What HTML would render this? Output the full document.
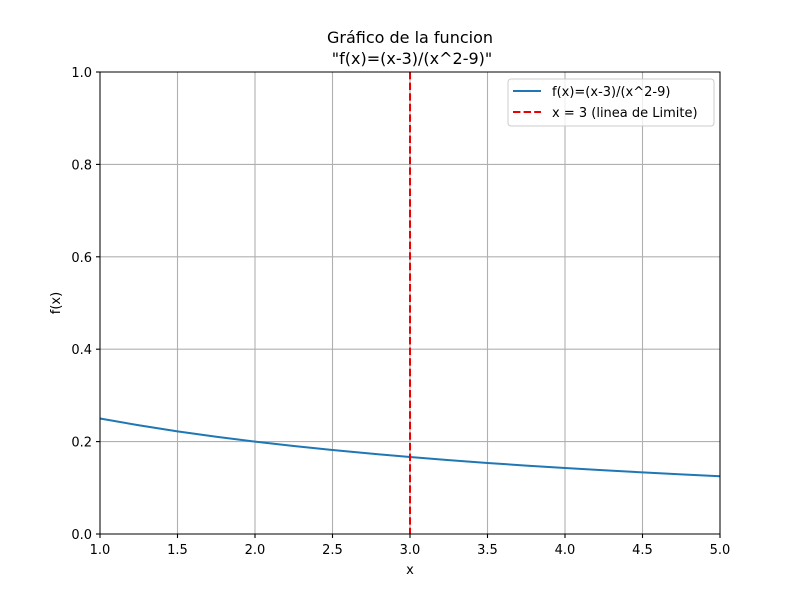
<!DOCTYPE html>
<html><head><meta charset="utf-8"><style>
body{margin:0;background:#fff;}
svg text{font-family:"DejaVu Sans","Liberation Sans",sans-serif;fill:#000;}
</style></head><body>
<svg id="chart" width="800" height="600" xmlns="http://www.w3.org/2000/svg">
<rect width="800" height="600" fill="#fff"/>
<g id="grid"></g>
<g id="plot"></g>
<rect x="100" y="72" width="620" height="462" fill="none" stroke="#000" stroke-width="1"/>
<g id="ticks"></g>
<text x="410" y="43" font-size="16" text-anchor="middle">Gráfico de la funcion</text>
<text x="412" y="64" font-size="16" text-anchor="middle">"f(x)=(x-3)/(x^2-9)"</text>
<text x="410" y="574" font-size="13" text-anchor="middle">x</text>
<text x="60" y="303" font-size="13" text-anchor="middle" transform="rotate(-90 60 303)">f(x)</text>
<g>
<rect x="508" y="79" width="206" height="47" rx="3" fill="#fff" fill-opacity="0.8" stroke="#ccc"/>
<line x1="513" y1="91" x2="541" y2="91" stroke="#1f77b4" stroke-width="2"/>
<text x="552" y="96" font-size="13">f(x)=(x-3)/(x^2-9)</text>
<line x1="513" y1="112" x2="541" y2="112" stroke="#e00" stroke-width="2" stroke-dasharray="7.4,3.2"/>
<text x="552" y="117" font-size="13">x = 3 (linea de Limite)</text>
</g>
</svg>
<script>
const xValues=[1,1.25,1.5,1.75,2,2.25,2.5,2.75,3,3.25,3.5,3.75,4,4.25,4.5,4.75,5];
const yValues=[0.25,0.2353,0.2222,0.2105,0.2,0.1905,0.1818,0.1739,0.1667,0.16,0.1538,0.1481,0.1429,0.1379,0.1333,0.129,0.125];
const limitX=3;
const xTicks=[1.0,1.5,2.0,2.5,3.0,3.5,4.0,4.5,5.0];
const yTicks=[0.0,0.2,0.4,0.6,0.8,1.0];
const NS="http://www.w3.org/2000/svg";
const sx=v=>100+(v-1)/4*620;
const sy=v=>534-v*462;
function mk(tag,attrs,parent){const e=document.createElementNS(NS,tag);for(const k in attrs)e.setAttribute(k,attrs[k]);parent.appendChild(e);return e;}
const grid=document.getElementById('grid'),ticks=document.getElementById('ticks'),plot=document.getElementById('plot');
xTicks.forEach(t=>{
 const g=mk('line',{x1:sx(t),x2:sx(t),y1:72,y2:534,stroke:'#b0b0b0','stroke-width':1.1},grid);
 
 
 const tk=mk('line',{x1:sx(t),x2:sx(t),y1:534,y2:538,stroke:'#000','stroke-width':1.1},ticks);
 
 
 const tx=mk('text',{x:sx(t),y:554,'font-size':13,'text-anchor':'middle'},ticks);
 tx.textContent=t.toFixed(1);
 
 
});
yTicks.forEach(t=>{
 const g=mk('line',{x1:100,x2:720,y1:sy(t),y2:sy(t),stroke:'#b0b0b0','stroke-width':1.1},grid);
 
 
 const tk=mk('line',{x1:96,x2:100,y1:sy(t),y2:sy(t),stroke:'#000','stroke-width':1.1},ticks);
 
 
 const tx=mk('text',{x:92,y:sy(t)+5,'font-size':13,'text-anchor':'end'},ticks);
 tx.textContent=t.toFixed(1);
 
 
});
const pts=xValues.map((x,i)=>sx(x)+','+sy(yValues[i])).join(' ');
const curve=mk('polyline',{points:pts,fill:'none',stroke:'#1f77b4','stroke-width':2},plot);


const lim=mk('line',{x1:sx(limitX),x2:sx(limitX),y1:72,y2:534,stroke:'#e00','stroke-width':2,'stroke-dasharray':'7.4,3.2'},plot);


</script>
</body></html>
